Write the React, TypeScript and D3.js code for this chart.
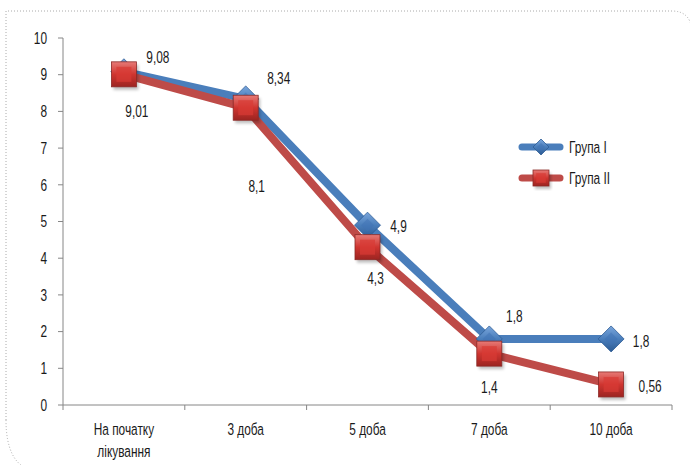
import React from "react";
import * as d3 from "d3";

const categories = ["На початку|лікування", "3 доба", "5 доба", "7 доба", "10 доба"];
const group1 = [9.08, 8.34, 4.9, 1.8, 1.8];
const group2 = [9.01, 8.1, 4.3, 1.4, 0.56];
const group1Labels = ["9,08", "8,34", "4,9", "1,8", "1,8"];
const group2Labels = ["9,01", "8,1", "4,3", "1,4", "0,56"];
const yTicks = [0, 1, 2, 3, 4, 5, 6, 7, 8, 9, 10];
const seriesNames = ["Група I", "Група II"];

// label offsets (pixels) relative to points
const g1Off = [[34, -15], [33, -21], [31, 1], [25, -23], [30, 2]];
const g2Off = [[13, 37], [11, 78], [8, 31], [0, 34], [39, 2]];

const W = 690, H = 465;
const left = 63, right = 672, top = 38, bottom = 405;
const BLUE = "#4a7ebb";
const RED = "#be4b48";
const FONT = "'Liberation Sans', Arial, sans-serif";

function T({ x, y, anchor = "start", children, size = 16.5 }: any) {
  return (
    <g transform={`translate(${x},${y}) scale(0.72,1)`}>
      <text x={0} y={0} dy="0.35em" textAnchor={anchor} fontSize={size} fill="#1a1a1a">{children}</text>
    </g>
  );
}

export default function App() {
  const x = d3.scaleBand<number>().domain(categories.map((_, i) => i)).range([left, right]);
  const y = d3.scaleLinear().domain([0, 10]).range([bottom, top]);
  const cx = (i: number) => (x(i) as number) + x.bandwidth() / 2;
  const line = d3.line<number>().x((_, i) => cx(i)).y((d) => y(d));

  const diamond = (px: number, py: number, s: number, key: string) => (
    <g key={key} transform={`translate(${px},${py})`}>
      <path d={`M0,${-s}L${s},0L0,${s}L${-s},0Z`} fill="url(#gBlue)" stroke="#2f5d95" strokeWidth={0.8} />
      <path d={`M0,${-s * 0.5}L${s * 0.5},0L0,${s * 0.5}L${-s * 0.5},0Z`} fill="#3f72b3" opacity={0.5} />
    </g>
  );
  const square = (px: number, py: number, s: number, key: string) => (
    <g key={key} transform={`translate(${px},${py})`}>
      <rect x={-s + 2} y={-s + 3} width={2 * s} height={2 * s} fill="#000" opacity={0.25} filter="url(#blur)" />
      <rect x={-s} y={-s} width={2 * s} height={2 * s} fill="url(#gRed)" stroke="#8c2a27" strokeWidth={0.8} />
      <rect x={-s * 0.6} y={-s * 0.6} width={1.2 * s} height={1.2 * s} fill="#d83a35" opacity={0.7} />
    </g>
  );

  return (
    <svg width={W} height={H} style={{ position: "absolute", left: 0, top: 0 }} fontFamily={FONT}>
      <defs>
        <linearGradient id="gBlue" x1="0" y1="0" x2="0" y2="1">
          <stop offset="0" stopColor="#7aa6dc" />
          <stop offset="0.5" stopColor="#4a7ebb" />
          <stop offset="1" stopColor="#2c5a93" />
        </linearGradient>
        <linearGradient id="gRed" x1="0" y1="0" x2="0" y2="1">
          <stop offset="0" stopColor="#e77a76" />
          <stop offset="0.5" stopColor="#cf3530" />
          <stop offset="1" stopColor="#9c2421" />
        </linearGradient>
        <filter id="blur"><feGaussianBlur stdDeviation="1.5" /></filter>
      </defs>
      <rect width={W} height={H} fill="#fff" />
      <path d={`M6,420 Q6,462 30,470`} fill="none" stroke="#aaa" strokeDasharray="1,2" />
      <path d={`M6,420 L6,11 L672,11 Q690,11 692,30`} fill="none" stroke="#aaa" strokeDasharray="1,2" />

      {/* axes */}
      <line x1={left} x2={left} y1={top} y2={bottom} stroke="#868686" />
      <line x1={left} x2={right} y1={bottom} y2={bottom} stroke="#868686" />
      {yTicks.map((t) => (
        <g key={t}>
          <line x1={left - 5} x2={left} y1={y(t)} y2={y(t)} stroke="#868686" />
          <T x={left - 16} y={y(t)} anchor="end">{t}</T>
        </g>
      ))}
      {categories.map((_, i) => (
        <line key={i} x1={x(i) as number} x2={x(i) as number} y1={bottom} y2={bottom + 5} stroke="#868686" />
      ))}
      <line x1={right} x2={right} y1={bottom} y2={bottom + 5} stroke="#868686" />
      {categories.map((c, i) =>
        c.split("|").map((s, j) => (
          <T key={c + j} x={cx(i)} y={429 + j * 22} anchor="middle">{s}</T>
        ))
      )}

      {/* lines */}
      <path d={line(group1) as string} fill="none" stroke={BLUE} strokeWidth={8} strokeLinejoin="round" />
      <path d={line(group2) as string} fill="none" stroke={RED} strokeWidth={8} strokeLinejoin="round" />
      {group1.map((v, i) => diamond(cx(i), y(v), 13, "d" + i))}
      {group2.map((v, i) => square(cx(i), y(v), 12.5, "s" + i))}

      {group1.map((v, i) => (
        <T key={"l1" + i} x={cx(i) + g1Off[i][0]} y={y(v) + g1Off[i][1]} anchor="middle">{group1Labels[i]}</T>
      ))}
      {group2.map((v, i) => (
        <T key={"l2" + i} x={cx(i) + g2Off[i][0]} y={y(v) + g2Off[i][1]} anchor="middle">{group2Labels[i]}</T>
      ))}

      {/* legend */}
      {[0, 1].map((k) => {
        const ly = k === 0 ? 147 : 178;
        return (
          <g key={k}>
            <line x1={522} x2={560} y1={ly} y2={ly} stroke={k === 0 ? BLUE : RED} strokeWidth={7} strokeLinecap="round" />
            {k === 0 ? diamond(541, ly, 8, "ld") : square(541, ly, 8, "ls")}
            <T x={569} y={ly}>{seriesNames[k]}</T>
          </g>
        );
      })}
    </svg>
  );
}
